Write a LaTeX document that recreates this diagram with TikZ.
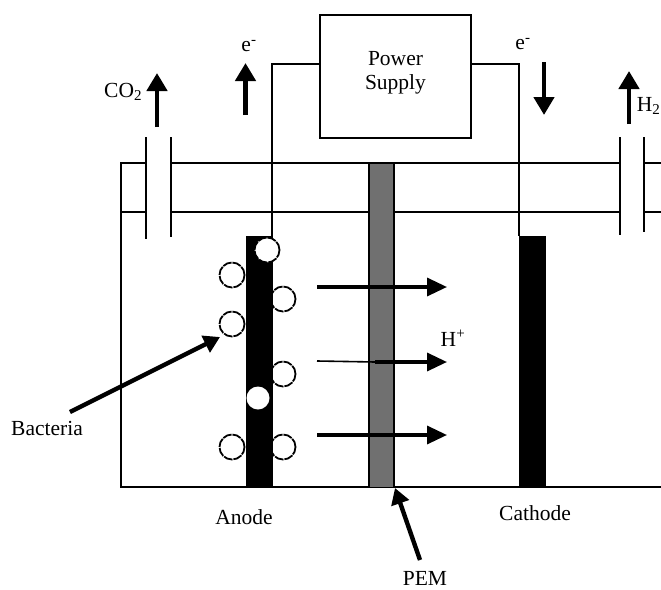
\documentclass[tikz,border=0pt]{standalone}
\usepackage{xcolor}
\usepackage{fontspec}
\setmainfont{Liberation Serif}
\usetikzlibrary{arrows.meta}
\definecolor{pemgrey}{RGB}{112,112,112}

\begin{document}
\begin{tikzpicture}[x=1pt,y=-1pt,font=\fontsize{21.5}{24}\selectfont,
    wire/.style={draw=black,line width=2pt},
    plate/.style={draw=black,fill=black,minimum width=26pt,minimum height=251pt,inner sep=0pt,anchor=north},
    cell/.style={circle,draw=black,fill=white,line width=1.8pt,dash pattern=on 9pt off 1pt,minimum size=#1,inner sep=0pt},
    cell/.default=25pt,
    flux/.style={-{Triangle[length=20pt,width=18pt]},line width=3.4pt},
    gas/.style={-{Triangle[length=18pt,width=20pt]},line width=4.4pt},
    pointer/.style={-{Triangle[length=16pt,width=18pt]},line width=4.4pt},
    lbl/.style={inner sep=0pt}]
  \useasboundingbox (0,0) rectangle (661,589);
  % tank
  \draw[wire] (146,163) -- (121,163) -- (121,487) -- (661,487);
  \draw[wire] (121,212) -- (146,212);
  \draw[wire] (171,163) -- (619,163) (644,163) -- (661,163);
  \draw[wire] (171,212) -- (619,212) (644,212) -- (661,212);
  \draw[wire] (146,137) -- (146,239) (171,137) -- (171,237);
  \draw[wire] (619.5,137) -- (619.5,235) (644,137) -- (644,232);
  % bacteria behind the electrode
  \node[cell] (c1) at (232,275) {};
  \node[cell] (c2) at (283,299) {};
  \node[cell] (c3) at (232,324) {};
  \node[cell] (c4) at (283,374) {};
  \node[cell] (c5) at (232,447) {};
  \node[cell] (c6) at (283,447) {};
  % cell parts
  \node[plate] (anode) at (259,236) {};
  \node[plate] (cathode) at (532,236) {};
  \node[draw=black,fill=pemgrey,line width=1.4pt,minimum width=25pt,minimum height=324pt,inner sep=0pt,anchor=north] (pem) at (381.5,163) {};
  \node[cell] (c7) at (267,250) {};
  \node[circle,fill=white,minimum size=23pt,inner sep=0pt] (c8) at (258,398) {};
  \node[draw=black,line width=2pt,fill=white,minimum width=151pt,minimum height=123pt,inner sep=0pt] (supply) at (395.5,76.5) {};
  \node[lbl,align=center] (supplytxt) at ([yshift=4pt]supply.center) {Power\\Supply};
  % wires
  \coordinate (wireA) at (271.5,64);
  \coordinate (wireC) at (519,64);
  \coordinate (tapA) at (320,64);
  \coordinate (tapC) at (471,64);
  \draw[wire] (tapA) -- (wireA) -- (271.5,236);
  \draw[wire] (tapC) -- (wireC) -- (519,236);
  % proton flux
  \coordinate (h1a) at (317,287); \coordinate (h1b) at (447,287);
  \coordinate (h2a) at (317,361); \coordinate (h2m) at (375,362); \coordinate (h2b) at (447,362);
  \coordinate (h3a) at (317,435); \coordinate (h3b) at (447,435);
  \draw[flux] (h1a) -- (h1b);
  \draw[line width=1.6pt] (h2a) -- (h2m);
  \draw[flux] (h2m) -- (h2b);
  \draw[flux] (h3a) -- (h3b);
  % gas and electrons
  \coordinate (co2a) at (157,127); \coordinate (co2b) at (157,73);
  \coordinate (ea) at (245.5,115); \coordinate (eb) at (245.5,63);
  \coordinate (fa) at (544,62); \coordinate (fb) at (544,115);
  \coordinate (gasa) at (629,124); \coordinate (gasb) at (629,71);
  \draw[gas] (co2a) -- (co2b);
  \draw[gas] (ea) -- (eb);
  \draw[gas] (fa) -- (fb);
  \draw[gas] (gasa) -- (gasb);
  % labels
  \node[lbl,anchor=west] (co2) at (104,92) {CO\textsubscript{2}};
  \node[lbl] (e1) at (249,46) {e\textsuperscript{-}};
  \node[lbl] (e2) at (523,44) {e\textsuperscript{-}};
  \node[lbl,anchor=east] (h2) at (660.5,106) {H\textsubscript{2}};
  \node[lbl] (hplus) at (453,338) {H\textsuperscript{+}};
  \node[lbl] (bacteria) at (47,428) {Bacteria};
  \node[lbl] (anodelbl) at (244,517) {Anode};
  \node[lbl] (cathodelbl) at (535,513) {Cathode};
  \node[lbl] (pemlbl) at (425,578) {PEM};
  \coordinate (bacfoot) at (70,412); \coordinate (bactip) at (220,337);
  \coordinate (pemfoot) at (420,560); \coordinate (pemtip) at (395,488);
  \draw[pointer] (bacfoot) -- (bactip);
  \draw[pointer] (pemfoot) -- (pemtip);
\end{tikzpicture}
\end{document}
